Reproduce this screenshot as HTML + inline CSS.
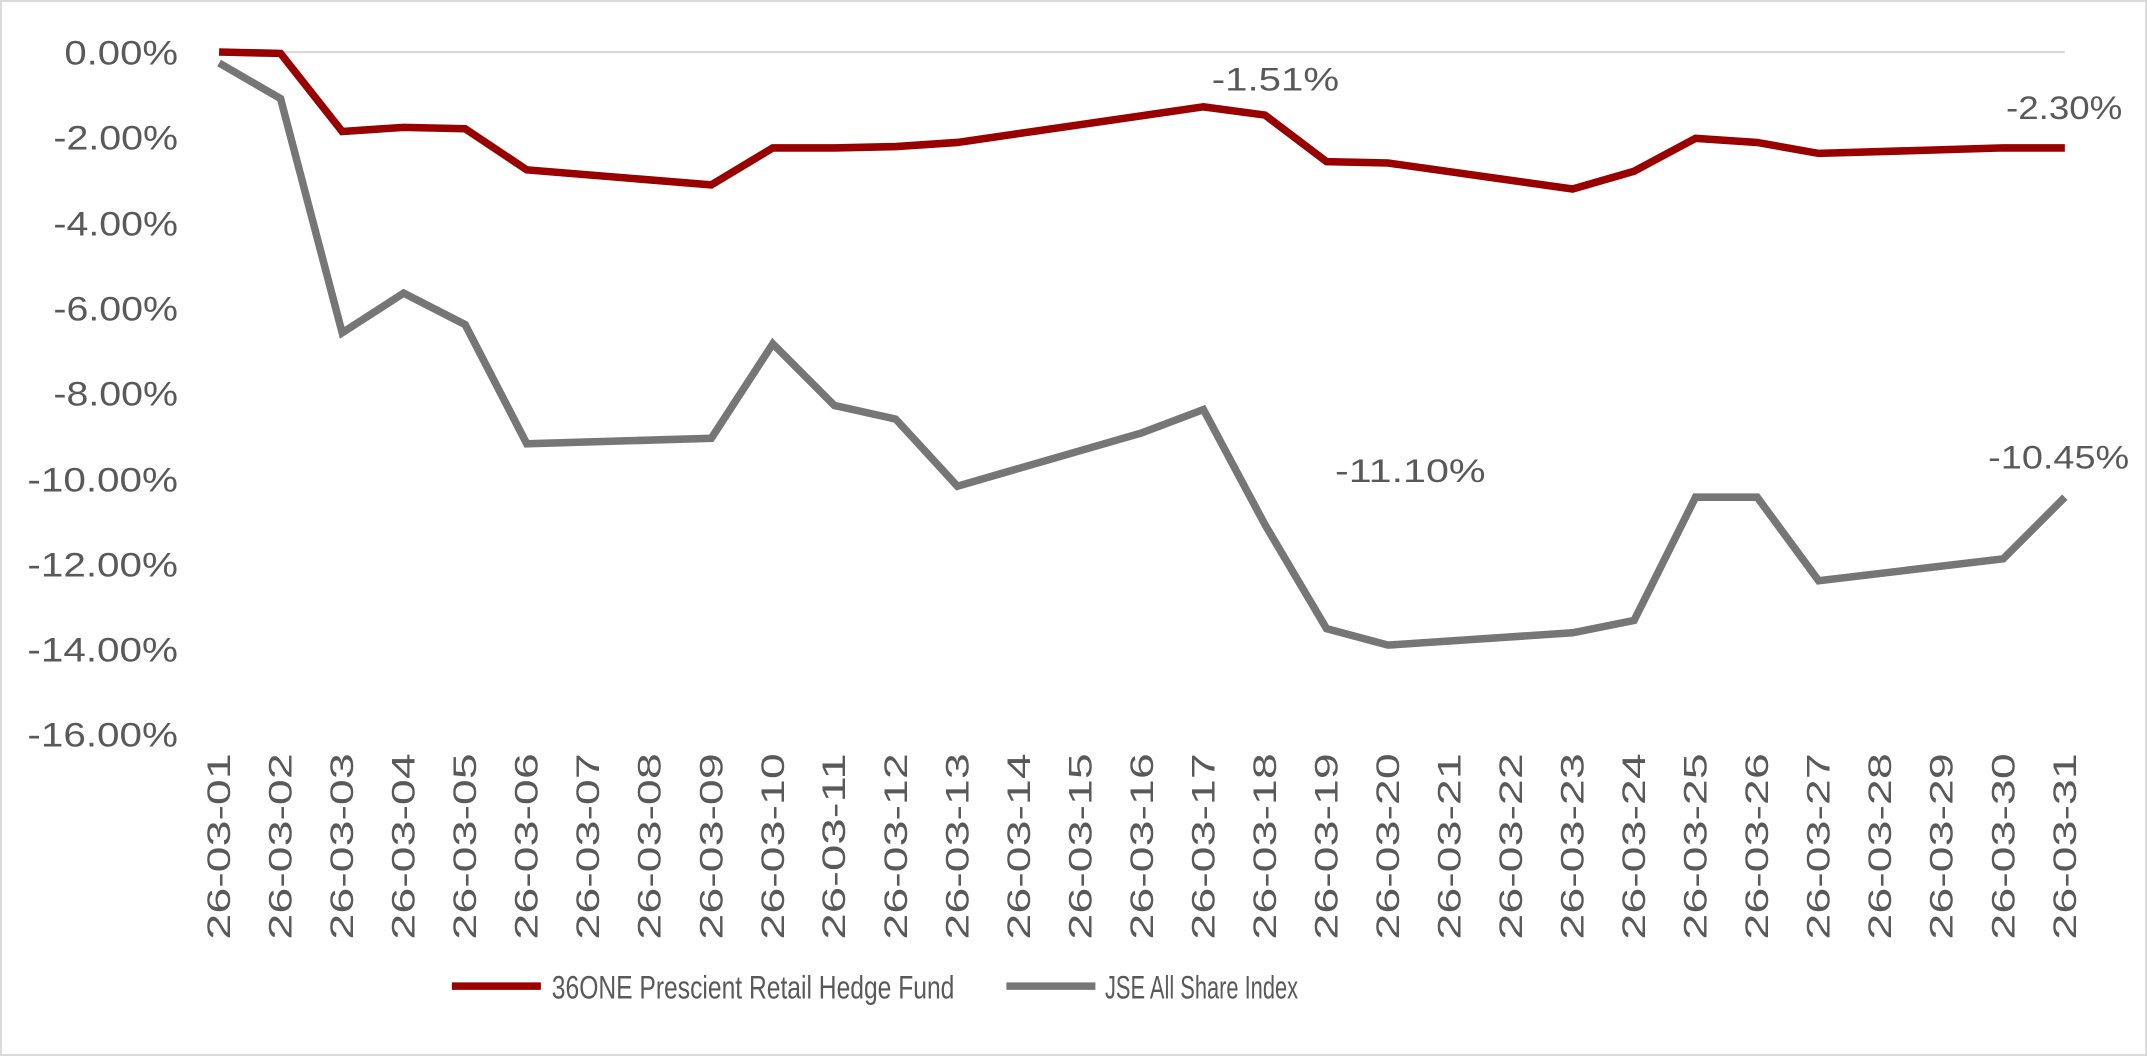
<!DOCTYPE html>
<html><head><meta charset="utf-8"><style>
html,body{margin:0;padding:0;background:#fff;}
svg{display:block;}
text{font-family:"Liberation Sans",Arial,sans-serif;fill:#595959;}
</style></head><body>
<svg width="2147" height="1056" viewBox="0 0 1568 771" preserveAspectRatio="none" xmlns="http://www.w3.org/2000/svg">
<rect x="0.7" y="0.7" width="1566.6" height="769.6" fill="#fff" stroke="#d9d9d9" stroke-width="1.4"/>
<line x1="160" y1="38" x2="1508" y2="38" stroke="#d9d9d9" stroke-width="1.5"/>
<g font-size="25" text-anchor="end">
<text x="130" y="47" textLength="83" lengthAdjust="spacingAndGlyphs">0.00%</text>
<text x="130" y="109" textLength="91" lengthAdjust="spacingAndGlyphs">-2.00%</text>
<text x="130" y="172" textLength="91" lengthAdjust="spacingAndGlyphs">-4.00%</text>
<text x="130" y="234" textLength="91" lengthAdjust="spacingAndGlyphs">-6.00%</text>
<text x="130" y="296" textLength="91" lengthAdjust="spacingAndGlyphs">-8.00%</text>
<text x="130" y="359" textLength="110" lengthAdjust="spacingAndGlyphs">-10.00%</text>
<text x="130" y="421" textLength="110" lengthAdjust="spacingAndGlyphs">-12.00%</text>
<text x="130" y="483" textLength="110" lengthAdjust="spacingAndGlyphs">-14.00%</text>
<text x="130" y="545" textLength="110" lengthAdjust="spacingAndGlyphs">-16.00%</text>
</g>
<g id="xl" font-size="24" text-anchor="end"></g>
<polyline fill="none" stroke="#767676" stroke-width="5.5" stroke-linejoin="miter" points="160,46 204.9,72 249.9,243 294.8,214 339.7,237 384.7,324 519.5,320 564.4,251 609.3,296 654.2,306 699.2,355 834,316 878.9,299 923.8,383 968.8,459 1013.7,471 1148.5,462 1193.4,453 1238.3,363 1283.3,363 1328.2,424 1463,408 1508,363"/>
<polyline fill="none" stroke="#990000" stroke-width="5.5" stroke-linejoin="miter" points="160,38 204.9,39 249.9,96 294.8,93 339.7,94 384.7,124 519.5,135 564.4,108 609.3,108 654.2,107 699.2,104 878.9,78 923.8,84 968.8,118 1013.7,119 1148.5,138 1193.4,125 1238.3,101 1283.3,104 1328.2,112 1463,108 1508,108"/>
<g font-size="24">
<text x="885" y="66" textLength="93" lengthAdjust="spacingAndGlyphs">-1.51%</text>
<text x="1465" y="87" textLength="85" lengthAdjust="spacingAndGlyphs">-2.30%</text>
<text x="975" y="352" textLength="110" lengthAdjust="spacingAndGlyphs">-11.10%</text>
<text x="1452" y="342" textLength="103" lengthAdjust="spacingAndGlyphs">-10.45%</text>
</g>
<line x1="330" y1="720" x2="395" y2="720" stroke="#990000" stroke-width="5.5"/>
<text x="403" y="729" font-size="24" textLength="294" lengthAdjust="spacingAndGlyphs">36ONE Prescient Retail Hedge Fund</text>
<line x1="735" y1="720" x2="800" y2="720" stroke="#767676" stroke-width="5.5"/>
<text x="807" y="729" font-size="24" textLength="141" lengthAdjust="spacingAndGlyphs">JSE All Share Index</text>
</svg>
<script>
var g=document.getElementById('xl'),s='';
for(var d=1;d<=31;d++){var x=160+(d-1)*44.933+8;var dd=(d<10?'0':'')+d;
s+='<text transform="translate('+x.toFixed(1)+',550) rotate(-90)" textLength="136" lengthAdjust="spacingAndGlyphs">26-03-'+dd+'</text>';}
g.innerHTML=s;
</script>
</body></html>
